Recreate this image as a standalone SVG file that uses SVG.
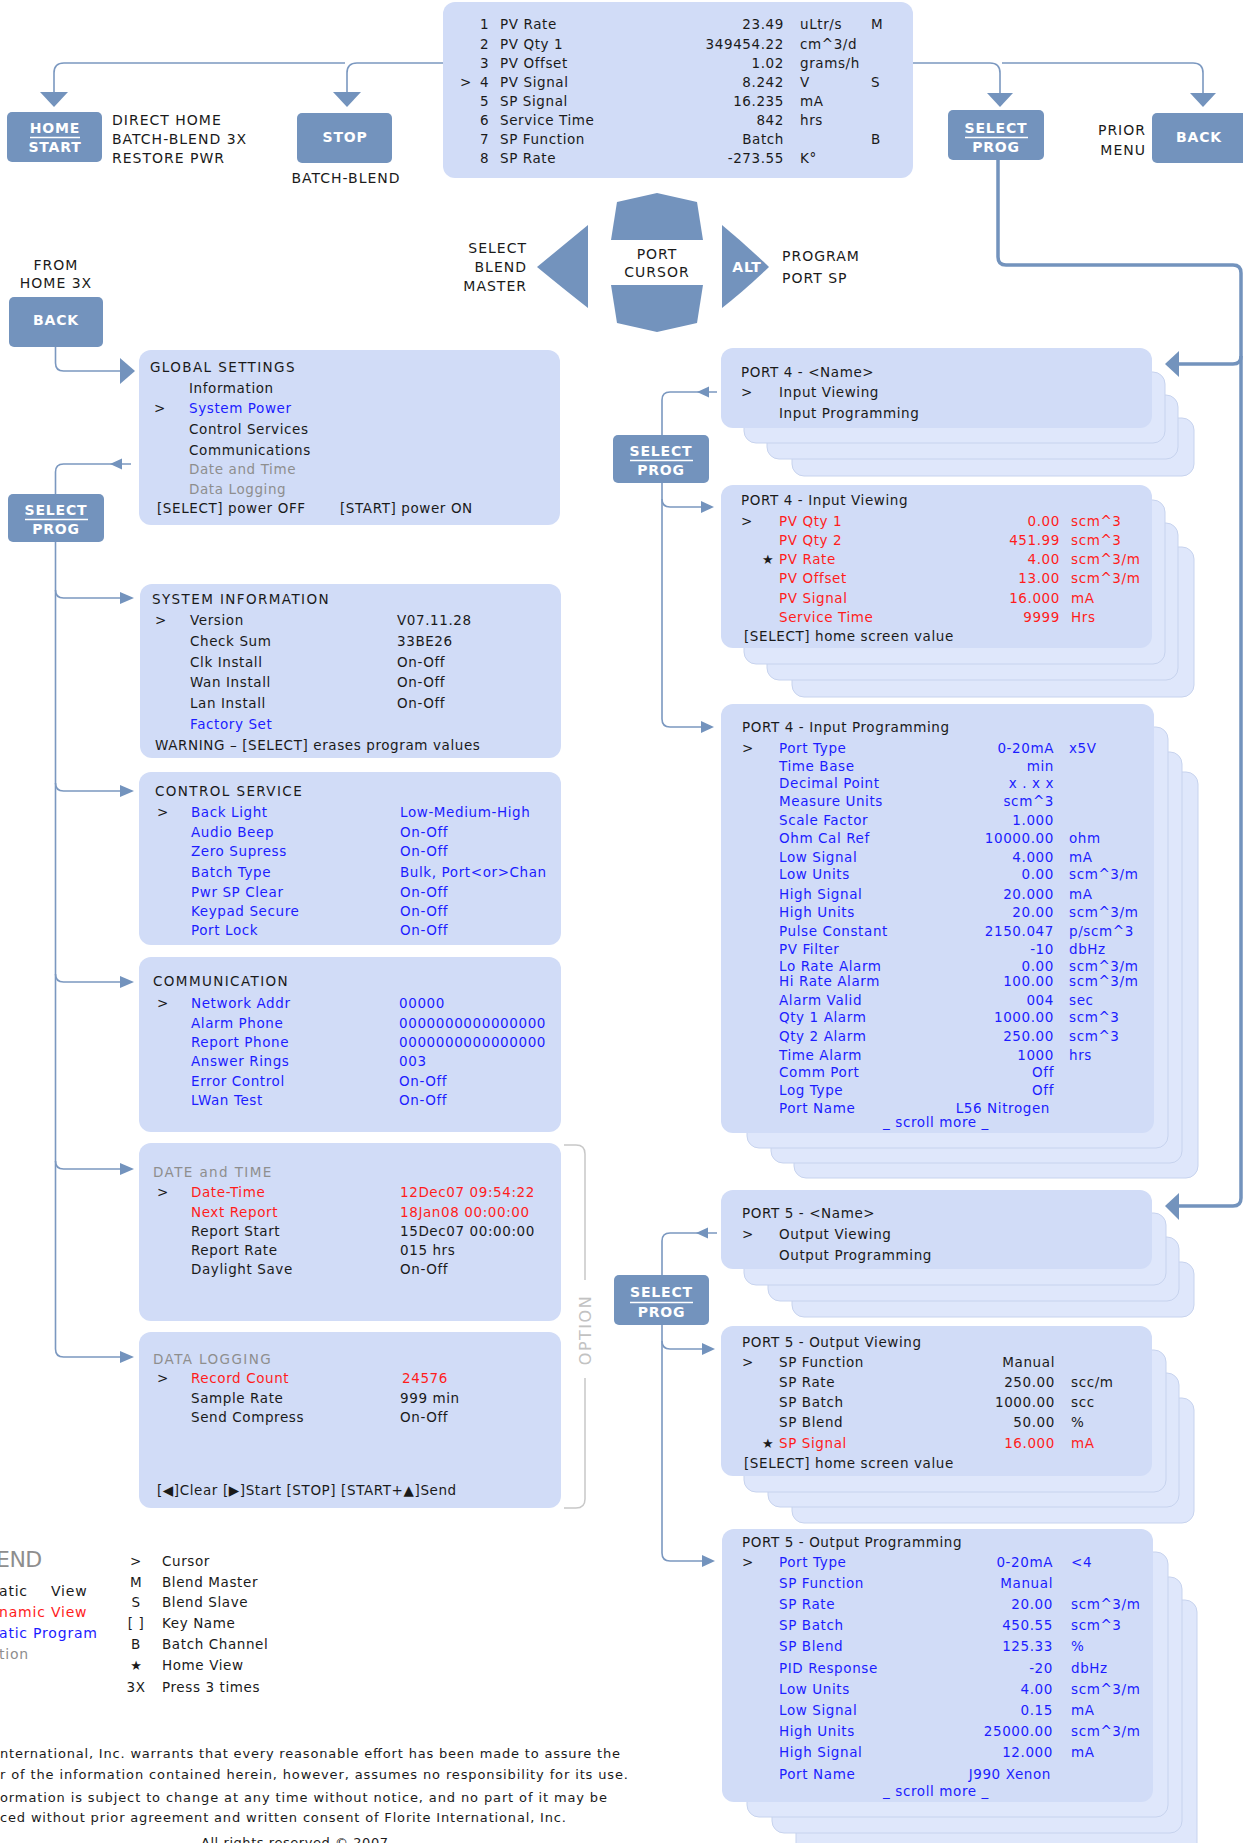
<svg xmlns="http://www.w3.org/2000/svg" width="1243" height="1843" viewBox="0 0 1243 1843">
<style>
text{font-family:"DejaVu Sans","Liberation Sans",sans-serif;font-size:13.5px;letter-spacing:0.6px;fill:#1a1a1a}
.h{letter-spacing:1.4px}
.b{fill:#1c1cff}
.r{fill:#ff1c1c}
.g{fill:#8e8e8e}
.e{text-anchor:end}
.m{text-anchor:middle}
.k{font-weight:bold;font-size:14px;fill:#fff;letter-spacing:0.8px;text-anchor:middle}
.lb{font-size:14px;letter-spacing:1px}
.pn{fill:#d1dcf7}
.ly{fill:#dfe7fb;stroke:#c7d3ee;stroke-width:1}
.bn{fill:#7393bd}
.c{fill:none;stroke:#7b98c0;stroke-width:1.6}
.ck{fill:none;stroke:#7393bd;stroke-width:3.5}
.ah{fill:#7393bd}
.ul{stroke:#fff;stroke-width:1.5}
.st{font-size:13px;letter-spacing:0}
.op{fill:none;stroke:#c8c8c8;stroke-width:1.5}
.lg{font-size:14px;letter-spacing:0.8px}
</style>

<!-- connectors -->
<g id="connectors">
<path class="c" d="M443,63 H357 Q347,63 347,73 V92"/>
<polygon class="ah" points="333,92 361,92 347,107"/>
<path class="c" d="M345,63 H64 Q54,63 54,73 V92"/>
<polygon class="ah" points="40,92 68,92 54,107"/>
<path class="c" d="M913,63 H990 Q1000,63 1000,73 V93"/>
<polygon class="ah" points="987,93 1013,93 1000,107"/>
<path class="c" d="M1002,63 H1193 Q1203,63 1203,73 V93"/>
<polygon class="ah" points="1190,93 1216,93 1203,107"/>
<path class="ck" d="M998,160 V257 Q998,265 1006,265 H1233 Q1241,265 1241,273 V1198 Q1241,1206 1233,1206 H1178"/>
<polygon class="ah" points="1165,1206 1179,1193 1179,1220"/>
<path class="ck" d="M1241,356 Q1241,364 1233,364 H1178"/>
<polygon class="ah" points="1165,364 1179,351 1179,377"/>
<path class="c" d="M55.5,347 V363 Q55.5,371 63.5,371 H121"/>
<polygon class="ah" points="135,371 120,358 120,384"/>
<path class="c" d="M55.5,494 V472 Q55.5,464 63.5,464 H131"/>
<polygon class="ah" points="110,464 122,458.5 122,469.5"/>
<path class="c" d="M55.5,542 V1349 Q55.5,1357 63.5,1357 H122"/>
<path class="c" d="M55.5,590 Q55.5,598 63.5,598 H122"/>
<path class="c" d="M55.5,783 Q55.5,791 63.5,791 H122"/>
<path class="c" d="M55.5,974 Q55.5,982 63.5,982 H122"/>
<path class="c" d="M55.5,1161 Q55.5,1169 63.5,1169 H122"/>
<polygon class="ah" points="134,598 120,592 120,604"/>
<polygon class="ah" points="134,791 120,785 120,797"/>
<polygon class="ah" points="134,982 120,976 120,988"/>
<polygon class="ah" points="134,1169 120,1163 120,1175"/>
<polygon class="ah" points="134,1357 120,1351 120,1363"/>
<path class="c" d="M662,437 V400 Q662,392 670,392 H717"/>
<polygon class="ah" points="697,392 709,386.5 709,397.5"/>
<path class="c" d="M662,483 V719 Q662,727 670,727 H701"/>
<path class="c" d="M662,499 Q662,507 670,507 H701"/>
<polygon class="ah" points="714,507 701,501 701,513"/>
<polygon class="ah" points="714,727 701,721 701,733"/>
<path class="c" d="M662,1275 V1241 Q662,1233 670,1233 H717"/>
<polygon class="ah" points="696,1233 708,1227.5 708,1238.5"/>
<path class="c" d="M662,1325 V1553 Q662,1561 670,1561 H702"/>
<path class="c" d="M662,1341 Q662,1349 670,1349 H702"/>
<polygon class="ah" points="715,1349 702,1343 702,1355"/>
<polygon class="ah" points="715,1561 702,1555 702,1567"/>
</g>

<!-- buttons -->
<g id="btn-home-start">
<rect class="bn" x="7" y="112" width="95" height="50" rx="5"/>
<text class="k" x="55" y="133">HOME</text>
<line class="ul" x1="30" y1="137.5" x2="80" y2="137.5"/>
<text class="k" x="55" y="152">START</text>
</g>
<g id="btn-stop">
<rect class="bn" x="297" y="113" width="95" height="50" rx="5"/>
<text class="k" x="345" y="142">STOP</text>
</g>
<g id="btn-select-top">
<rect class="bn" x="948" y="110" width="96" height="50" rx="5"/>
<text class="k" x="996" y="133">SELECT</text>
<line class="ul" x1="965" y1="137.5" x2="1028" y2="137.5"/>
<text class="k" x="996" y="152">PROG</text>
</g>
<g id="btn-back-top">
<rect class="bn" x="1152" y="113" width="96" height="50" rx="5"/>
<text class="k" x="1199" y="142">BACK</text>
</g>
<g id="btn-back-left">
<rect class="bn" x="9" y="297" width="94" height="50" rx="5"/>
<text class="k" x="56" y="325">BACK</text>
</g>
<g id="btn-select-left">
<rect class="bn" x="8" y="494" width="96" height="48" rx="5"/>
<text class="k" x="56" y="515">SELECT</text>
<line class="ul" x1="25" y1="519.5" x2="88" y2="519.5"/>
<text class="k" x="56" y="534">PROG</text>
</g>
<g id="btn-select-port4">
<rect class="bn" x="613" y="435" width="96" height="48" rx="5"/>
<text class="k" x="661" y="456">SELECT</text>
<line class="ul" x1="630" y1="460.5" x2="693" y2="460.5"/>
<text class="k" x="661" y="475">PROG</text>
</g>
<g id="btn-select-port5">
<rect class="bn" x="614" y="1275" width="95" height="50" rx="5"/>
<text class="k" x="661.5" y="1297">SELECT</text>
<line class="ul" x1="630" y1="1302.5" x2="693" y2="1302.5"/>
<text class="k" x="661.5" y="1317">PROG</text>
</g>

<!-- button labels -->
<g id="labels">
<text class="lb" x="112" y="125">DIRECT HOME</text>
<text class="lb" x="112" y="144">BATCH-BLEND 3X</text>
<text class="lb" x="112" y="163">RESTORE PWR</text>
<text class="lb m" x="346" y="183">BATCH-BLEND</text>
<text class="lb e" x="1146" y="135">PRIOR</text>
<text class="lb e" x="1146" y="155">MENU</text>
<text class="lb m" x="56" y="270">FROM</text>
<text class="lb m" x="56" y="288">HOME 3X</text>
</g>

<!-- cursor keypad -->
<g id="keypad">
<path class="bn" d="M611,240 L617,202 L657,193 L697,202 L703,240 Z"/>
<path class="bn" d="M611,285 L703,285 L697,323 L657,332 L617,323 Z"/>
<path class="bn" d="M588,225 Q565,244 537,267 Q565,290 588,308 Z"/>
<path class="bn" d="M722,225 Q745,244 769,267 Q745,290 722,308 Z"/>
<text class="lb m" x="657" y="259">PORT</text>
<text class="lb m" x="657" y="277">CURSOR</text>
<text class="k" x="747" y="272">ALT</text>
<text class="lb e" x="527" y="253">SELECT</text>
<text class="lb e" x="527" y="272">BLEND</text>
<text class="lb e" x="527" y="291">MASTER</text>
<text class="lb" x="782" y="261">PROGRAM</text>
<text class="lb" x="782" y="283">PORT SP</text>
</g>

<!-- home display -->
<g id="home-display">
<rect class="pn" x="443" y="2" width="470" height="176" rx="12"/>
<text x="480" y="29">1</text><text x="500" y="29">PV Rate</text><text class="e" x="784" y="29">23.49</text><text x="800" y="29">uLtr/s</text><text x="871" y="29">M</text>
<text x="480" y="49">2</text><text x="500" y="49">PV Qty 1</text><text class="e" x="784" y="49">349454.22</text><text x="800" y="49">cm^3/d</text>
<text x="480" y="68">3</text><text x="500" y="68">PV Offset</text><text class="e" x="784" y="68">1.02</text><text x="800" y="68">grams/h</text>
<text x="460" y="87">&gt;</text><text x="480" y="87">4</text><text x="500" y="87">PV Signal</text><text class="e" x="784" y="87">8.242</text><text x="800" y="87">V</text><text x="871" y="87">S</text>
<text x="480" y="106">5</text><text x="500" y="106">SP Signal</text><text class="e" x="784" y="106">16.235</text><text x="800" y="106">mA</text>
<text x="480" y="125">6</text><text x="500" y="125">Service Time</text><text class="e" x="784" y="125">842</text><text x="800" y="125">hrs</text>
<text x="480" y="144">7</text><text x="500" y="144">SP Function</text><text class="e" x="784" y="144">Batch</text><text x="871" y="144">B</text>
<text x="480" y="163">8</text><text x="500" y="163">SP Rate</text><text class="e" x="784" y="163">-273.55</text><text x="800" y="163">K°</text>
</g>

<!-- left column -->
<g id="global-settings">
<rect class="pn" x="139" y="350" width="421" height="175" rx="12"/>
<text class="h" x="150" y="372">GLOBAL SETTINGS</text>
<text x="189" y="393">Information</text>
<text x="154" y="413">&gt;</text><text class="b" x="189" y="413">System Power</text>
<text x="189" y="434">Control Services</text>
<text x="189" y="455">Communications</text>
<text class="g" x="189" y="474">Date and Time</text>
<text class="g" x="189" y="494">Data Logging</text>
<text x="157" y="513">[SELECT] power OFF</text>
<text x="340" y="513">[START] power ON</text>
</g>

<g id="system-information">
<rect class="pn" x="140" y="584" width="421" height="174" rx="12"/>
<text class="h" x="152" y="604">SYSTEM INFORMATION</text>
<text x="155" y="625">&gt;</text><text x="190" y="625">Version</text><text x="397" y="625">V07.11.28</text>
<text x="190" y="646">Check Sum</text><text x="397" y="646">33BE26</text>
<text x="190" y="667">Clk Install</text><text x="397" y="667">On-Off</text>
<text x="190" y="687">Wan Install</text><text x="397" y="687">On-Off</text>
<text x="190" y="708">Lan Install</text><text x="397" y="708">On-Off</text>
<text class="b" x="190" y="729">Factory Set</text>
<text x="155" y="750">WARNING – [SELECT] erases program values</text>
</g>

<g id="control-service">
<rect class="pn" x="139" y="772" width="422" height="173" rx="12"/>
<text class="h" x="155" y="796">CONTROL SERVICE</text>
<text x="157" y="817">&gt;</text><text class="b" x="191" y="817">Back Light</text><text class="b" x="400" y="817">Low-Medium-High</text>
<text class="b" x="191" y="837">Audio Beep</text><text class="b" x="400" y="837">On-Off</text>
<text class="b" x="191" y="856">Zero Supress</text><text class="b" x="400" y="856">On-Off</text>
<text class="b" x="191" y="877">Batch Type</text><text class="b" x="400" y="877">Bulk, Port&lt;or&gt;Chan</text>
<text class="b" x="191" y="897">Pwr SP Clear</text><text class="b" x="400" y="897">On-Off</text>
<text class="b" x="191" y="916">Keypad Secure</text><text class="b" x="400" y="916">On-Off</text>
<text class="b" x="191" y="935">Port Lock</text><text class="b" x="400" y="935">On-Off</text>
</g>

<g id="communication">
<rect class="pn" x="139" y="957" width="422" height="175" rx="12"/>
<text class="h" x="153" y="986">COMMUNICATION</text>
<text x="157" y="1008">&gt;</text><text class="b" x="191" y="1008">Network Addr</text><text class="b" x="399" y="1008">00000</text>
<text class="b" x="191" y="1028">Alarm Phone</text><text class="b" x="399" y="1028">0000000000000000</text>
<text class="b" x="191" y="1047">Report Phone</text><text class="b" x="399" y="1047">0000000000000000</text>
<text class="b" x="191" y="1066">Answer Rings</text><text class="b" x="399" y="1066">003</text>
<text class="b" x="191" y="1086">Error Control</text><text class="b" x="399" y="1086">On-Off</text>
<text class="b" x="191" y="1105">LWan Test</text><text class="b" x="399" y="1105">On-Off</text>
</g>

<g id="date-and-time">
<rect class="pn" x="139" y="1143" width="422" height="178" rx="12"/>
<text class="h g" x="153" y="1177">DATE and TIME</text>
<text x="157" y="1197">&gt;</text><text class="r" x="191" y="1197">Date-Time</text><text class="r" x="400" y="1197">12Dec07 09:54:22</text>
<text class="r" x="191" y="1217">Next Report</text><text class="r" x="400" y="1217">18Jan08  00:00:00</text>
<text x="191" y="1236">Report Start</text><text x="400" y="1236">15Dec07 00:00:00</text>
<text x="191" y="1255">Report Rate</text><text x="400" y="1255">015 hrs</text>
<text x="191" y="1274">Daylight Save</text><text x="400" y="1274">On-Off</text>
</g>

<g id="data-logging">
<rect class="pn" x="139" y="1332" width="422" height="176" rx="12"/>
<text class="h g" x="153" y="1364">DATA LOGGING</text>
<text x="157" y="1383">&gt;</text><text class="r" x="191" y="1383">Record Count</text><text class="r" x="402" y="1383">24576</text>
<text x="191" y="1403">Sample Rate</text><text x="400" y="1403">999 min</text>
<text x="191" y="1422">Send Compress</text><text x="400" y="1422">On-Off</text>
<text x="157" y="1495">[◀]Clear [▶]Start [STOP] [START+▲]Send</text>
</g>

<g id="option-bracket">
<path class="op" d="M564,1145 H576 Q585,1145 585,1154 V1280"/>
<path class="op" d="M585,1378 V1499 Q585,1508 576,1508 H564"/>
<text x="591" y="1330" transform="rotate(-90 591 1330)" class="m" style="fill:#c2c2c2;font-size:16px;letter-spacing:1.5px">OPTION</text>
</g>

<!-- right column -->
<g id="port4-name">
<rect class="ly" x="792" y="418" width="402" height="58" rx="12"/>
<rect class="ly" x="767" y="395" width="411" height="64" rx="12"/>
<rect class="ly" x="744" y="372" width="421" height="71" rx="12"/>
<rect class="pn" x="721" y="348" width="431" height="80" rx="12"/>
<text x="741" y="377">PORT 4 - &lt;Name&gt;</text>
<text x="741" y="397">&gt;</text><text x="779" y="397">Input Viewing</text>
<text x="779" y="418">Input Programming</text>
</g>

<g id="port4-input-viewing">
<rect class="ly" x="792" y="547" width="402" height="150" rx="12"/>
<rect class="ly" x="767" y="523" width="411" height="157" rx="12"/>
<rect class="ly" x="744" y="500" width="421" height="164" rx="12"/>
<rect class="pn" x="721" y="485" width="431" height="163" rx="12"/>
<text x="741" y="505">PORT 4 - Input Viewing</text>
<text x="741" y="526">&gt;</text><text class="r" x="779" y="526">PV Qty 1</text><text class="r e" x="1060" y="526">0.00</text><text class="r" x="1071" y="526">scm^3</text>
<text class="r" x="779" y="545">PV Qty 2</text><text class="r e" x="1060" y="545">451.99</text><text class="r" x="1071" y="545">scm^3</text>
<text class="st" x="762" y="564">★</text><text class="r" x="779" y="564">PV Rate</text><text class="r e" x="1060" y="564">4.00</text><text class="r" x="1071" y="564">scm^3/m</text>
<text class="r" x="779" y="583">PV Offset</text><text class="r e" x="1060" y="583">13.00</text><text class="r" x="1071" y="583">scm^3/m</text>
<text class="r" x="779" y="603">PV Signal</text><text class="r e" x="1060" y="603">16.000</text><text class="r" x="1071" y="603">mA</text>
<text class="r" x="779" y="622">Service Time</text><text class="r e" x="1060" y="622">9999</text><text class="r" x="1071" y="622">Hrs</text>
<text x="744" y="641">[SELECT] home screen value</text>
</g>

<g id="port4-input-programming">
<rect class="ly" x="794" y="772" width="404" height="406" rx="12"/>
<rect class="ly" x="771" y="752" width="411" height="411" rx="12"/>
<rect class="ly" x="747" y="727" width="421" height="421" rx="12"/>
<rect class="pn" x="721" y="704" width="433" height="429" rx="12"/>
<text x="742" y="732">PORT 4 - Input Programming</text>
<text x="742" y="753">&gt;</text><text class="b" x="779" y="753">Port Type</text><text class="b e" x="1054" y="753">0-20mA</text><text class="b" x="1069" y="753">x5V</text>
<text class="b" x="779" y="771">Time Base</text><text class="b e" x="1054" y="771">min</text>
<text class="b" x="779" y="788">Decimal Point</text><text class="b e" x="1054" y="788">x . x x</text>
<text class="b" x="779" y="806">Measure Units</text><text class="b e" x="1054" y="806">scm^3</text>
<text class="b" x="779" y="825">Scale Factor</text><text class="b e" x="1054" y="825">1.000</text>
<text class="b" x="779" y="843">Ohm Cal Ref</text><text class="b e" x="1054" y="843">10000.00</text><text class="b" x="1069" y="843">ohm</text>
<text class="b" x="779" y="862">Low Signal</text><text class="b e" x="1054" y="862">4.000</text><text class="b" x="1069" y="862">mA</text>
<text class="b" x="779" y="879">Low Units</text><text class="b e" x="1054" y="879">0.00</text><text class="b" x="1069" y="879">scm^3/m</text>
<text class="b" x="779" y="899">High Signal</text><text class="b e" x="1054" y="899">20.000</text><text class="b" x="1069" y="899">mA</text>
<text class="b" x="779" y="917">High Units</text><text class="b e" x="1054" y="917">20.00</text><text class="b" x="1069" y="917">scm^3/m</text>
<text class="b" x="779" y="936">Pulse Constant</text><text class="b e" x="1054" y="936">2150.047</text><text class="b" x="1069" y="936">p/scm^3</text>
<text class="b" x="779" y="954">PV Filter</text><text class="b e" x="1054" y="954">-10</text><text class="b" x="1069" y="954">dbHz</text>
<text class="b" x="779" y="971">Lo Rate Alarm</text><text class="b e" x="1054" y="971">0.00</text><text class="b" x="1069" y="971">scm^3/m</text>
<text class="b" x="779" y="986">Hi Rate Alarm</text><text class="b e" x="1054" y="986">100.00</text><text class="b" x="1069" y="986">scm^3/m</text>
<text class="b" x="779" y="1005">Alarm Valid</text><text class="b e" x="1054" y="1005">004</text><text class="b" x="1069" y="1005">sec</text>
<text class="b" x="779" y="1022">Qty 1 Alarm</text><text class="b e" x="1054" y="1022">1000.00</text><text class="b" x="1069" y="1022">scm^3</text>
<text class="b" x="779" y="1041">Qty 2 Alarm</text><text class="b e" x="1054" y="1041">250.00</text><text class="b" x="1069" y="1041">scm^3</text>
<text class="b" x="779" y="1060">Time Alarm</text><text class="b e" x="1054" y="1060">1000</text><text class="b" x="1069" y="1060">hrs</text>
<text class="b" x="779" y="1077">Comm Port</text><text class="b e" x="1054" y="1077">Off</text>
<text class="b" x="779" y="1095">Log Type</text><text class="b e" x="1054" y="1095">Off</text>
<text class="b" x="779" y="1113">Port Name</text><text class="b e" x="1050" y="1113">L56 Nitrogen</text>
<text class="b m" x="936" y="1127">_ scroll more _</text>
</g>

<g id="port5-name">
<rect class="ly" x="792" y="1262" width="402" height="55" rx="12"/>
<rect class="ly" x="768" y="1237" width="411" height="64" rx="12"/>
<rect class="ly" x="744" y="1213" width="422" height="72" rx="12"/>
<rect class="pn" x="721" y="1190" width="431" height="79" rx="12"/>
<text x="742" y="1218">PORT 5 - &lt;Name&gt;</text>
<text x="742" y="1239">&gt;</text><text x="779" y="1239">Output Viewing</text>
<text x="779" y="1260">Output Programming</text>
</g>

<g id="port5-output-viewing">
<rect class="ly" x="792" y="1398" width="402" height="125" rx="12"/>
<rect class="ly" x="768" y="1373" width="411" height="134" rx="12"/>
<rect class="ly" x="744" y="1350" width="422" height="142" rx="12"/>
<rect class="pn" x="721" y="1326" width="431" height="150" rx="12"/>
<text x="742" y="1347">PORT 5 - Output Viewing</text>
<text x="742" y="1367">&gt;</text><text x="779" y="1367">SP Function</text><text class="e" x="1055" y="1367">Manual</text>
<text x="779" y="1387">SP Rate</text><text class="e" x="1055" y="1387">250.00</text><text x="1071" y="1387">scc/m</text>
<text x="779" y="1407">SP Batch</text><text class="e" x="1055" y="1407">1000.00</text><text x="1071" y="1407">scc</text>
<text x="779" y="1427">SP Blend</text><text class="e" x="1055" y="1427">50.00</text><text x="1071" y="1427">%</text>
<text class="st" x="762" y="1448">★</text><text class="r" x="779" y="1448">SP Signal</text><text class="r e" x="1055" y="1448">16.000</text><text class="r" x="1071" y="1448">mA</text>
<text x="744" y="1468">[SELECT] home screen value</text>
</g>

<g id="port5-output-programming">
<rect class="ly" x="796" y="1600" width="401" height="260" rx="12"/>
<rect class="ly" x="772" y="1577" width="410" height="256" rx="12"/>
<rect class="ly" x="747" y="1552" width="421" height="265" rx="12"/>
<rect class="pn" x="722" y="1529" width="431" height="273" rx="12"/>
<text x="742" y="1547">PORT 5 - Output Programming</text>
<text x="742" y="1567">&gt;</text><text class="b" x="779" y="1567">Port Type</text><text class="b e" x="1053" y="1567">0-20mA</text><text class="b" x="1071" y="1567">&lt;4</text>
<text class="b" x="779" y="1588">SP Function</text><text class="b e" x="1053" y="1588">Manual</text>
<text class="b" x="779" y="1609">SP Rate</text><text class="b e" x="1053" y="1609">20.00</text><text class="b" x="1071" y="1609">scm^3/m</text>
<text class="b" x="779" y="1630">SP Batch</text><text class="b e" x="1053" y="1630">450.55</text><text class="b" x="1071" y="1630">scm^3</text>
<text class="b" x="779" y="1651">SP Blend</text><text class="b e" x="1053" y="1651">125.33</text><text class="b" x="1071" y="1651">%</text>
<text class="b" x="779" y="1673">PID Response</text><text class="b e" x="1053" y="1673">-20</text><text class="b" x="1071" y="1673">dbHz</text>
<text class="b" x="779" y="1694">Low Units</text><text class="b e" x="1053" y="1694">4.00</text><text class="b" x="1071" y="1694">scm^3/m</text>
<text class="b" x="779" y="1715">Low Signal</text><text class="b e" x="1053" y="1715">0.15</text><text class="b" x="1071" y="1715">mA</text>
<text class="b" x="779" y="1736">High Units</text><text class="b e" x="1053" y="1736">25000.00</text><text class="b" x="1071" y="1736">scm^3/m</text>
<text class="b" x="779" y="1757">High Signal</text><text class="b e" x="1053" y="1757">12.000</text><text class="b" x="1071" y="1757">mA</text>
<text class="b" x="779" y="1779">Port Name</text><text class="b e" x="1051" y="1779">J990 Xenon</text>
<text class="b m" x="936" y="1796">_ scroll more _</text>
</g>

<!-- legend -->
<g id="legend">
<text x="-4" y="1567" class="g" style="font-size:22px;letter-spacing:-0.5px">END</text>
<text class="lg" y="1596"><tspan x="-1">atic</tspan><tspan x="51">View</tspan></text>
<text class="lg r" x="-1" y="1617">namic View</text>
<text class="lg b" x="-1" y="1638">atic Program</text>
<text class="lg g" x="-1" y="1659">tion</text>
<text class="m" x="136" y="1566">&gt;</text><text x="162" y="1566">Cursor</text>
<text class="m" x="136" y="1587">M</text><text x="162" y="1587">Blend Master</text>
<text class="m" x="136" y="1607">S</text><text x="162" y="1607">Blend Slave</text>
<text class="m" x="136" y="1628">[ ]</text><text x="162" y="1628">Key Name</text>
<text class="m" x="136" y="1649">B</text><text x="162" y="1649">Batch Channel</text>
<text class="m st" x="136" y="1670">★</text><text x="162" y="1670">Home View</text>
<text class="m" x="136" y="1692">3X</text><text x="162" y="1692">Press 3 times</text>
</g>

<g id="disclaimer">
<text x="0" y="1758" textLength="620" lengthAdjust="spacing" style="font-size:13px;letter-spacing:0">nternational, Inc. warrants that every reasonable effort has been made to assure the</text>
<text x="0" y="1779" textLength="628" lengthAdjust="spacing" style="font-size:13px;letter-spacing:0">r of the information contained herein, however, assumes no responsibility for its use.</text>
<text x="0" y="1802" textLength="607" lengthAdjust="spacing" style="font-size:13px;letter-spacing:0">ormation is subject to change at any time without notice, and no part of it may be</text>
<text x="0" y="1822" textLength="566" lengthAdjust="spacing" style="font-size:13px;letter-spacing:0">ced without prior agreement and written consent of Florite International, Inc.</text>
<text x="201" y="1847" textLength="187" lengthAdjust="spacing" style="font-size:13px;letter-spacing:0">All rights reserved © 2007</text>
</g>
</svg>
